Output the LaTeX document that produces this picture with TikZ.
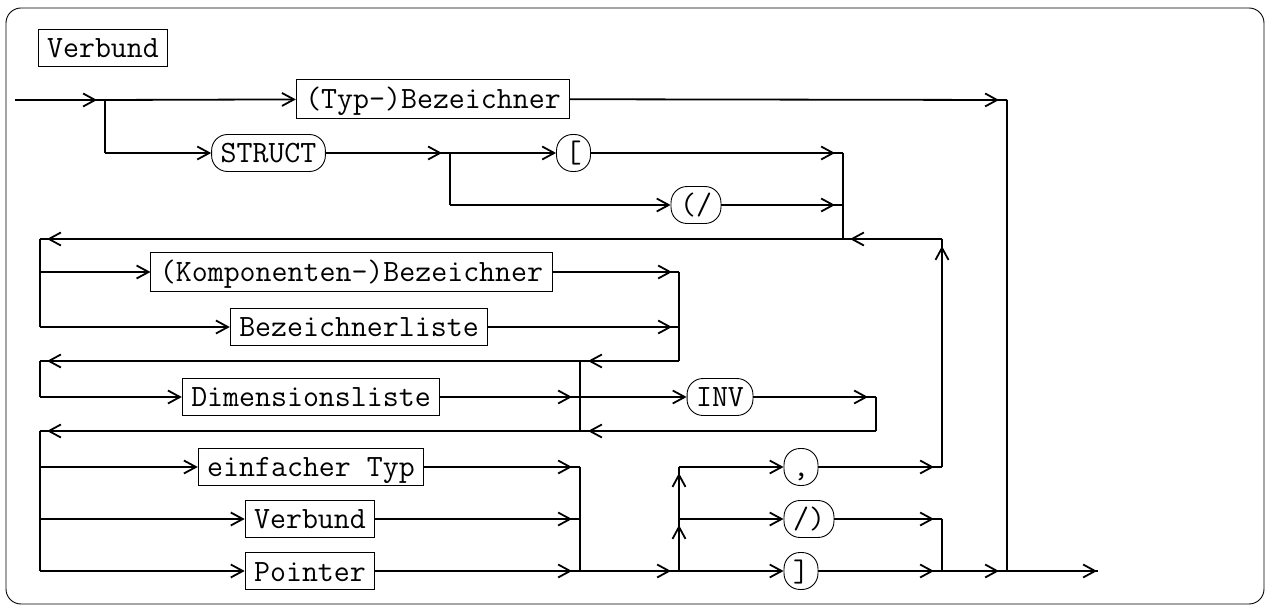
\documentclass[tikz,border=0pt]{standalone}
\usetikzlibrary{arrows.meta,decorations.markings}
\begin{document}
\begin{tikzpicture}[x=1pt,y=-1pt,
  ln/.style={line width=1.8pt},
  tonode/.style={-{Straight Barb[length=12pt,width=13pt]}},
  tipb/.style={postaction={decorate},decoration={markings,mark=at position -#1 with {\arrow{Straight Barb[length=12pt,width=13pt]}}}},
  tipb/.default=8pt,
  box/.style={draw,line width=0.9pt,inner xsep=9pt,inner ysep=2.5pt,text height=26pt,text depth=6pt,font=\fontsize{31pt}{37pt}\selectfont\ttfamily},
  rnd/.style={box,rounded corners=16pt}]
\useasboundingbox (0,0) rectangle (1270,609);
\draw[line width=0.9pt,rounded corners=15pt] (6,8) rectangle (1264,604);
% nodes
\node[box] (title) at (103,47.5) {Verbund};
\node[box,minimum height=39pt] (typ) at (433,99) {(Typ-)Bezeichner};
\node[rnd] (struct) at (268.5,153) {STRUCT};
\node[rnd] (lbr) at (573.5,153) {[};
\node[rnd] (lsl) at (696,205) {(/};
\node[box,minimum height=39pt] (komp) at (351.5,272) {(Komponenten-)Bezeichner};
\node[box] (bez) at (359,327) {Bezeichnerliste};
\node[box] (dim) at (311,397) {Dimensionsliste};
\node[rnd] (inv) at (720,397) {INV};
\node[box] (einf) at (311,467) {einfacher Typ};
\node[box] (verb) at (310,519) {Verbund};
\node[box] (ptr) at (310,571) {Pointer};
\node[rnd] (comma) at (801,467) {,};
\node[rnd] (slr) at (809,519) {/)};
\node[rnd] (rbr) at (801,571) {]};
% coordinates
\coordinate (in) at (15,100);
\coordinate (j1) at (105,100);
\coordinate (j1s) at (105,153);
\coordinate (j2) at (450,153);
\coordinate (j2p) at (450,205);
\coordinate (c1a) at (843,153);
\coordinate (c1b) at (843,205);
\coordinate (c1) at (843,239);
\coordinate (r1l) at (40,239);
\coordinate (kL) at (40,272);
\coordinate (bL) at (40,327);
\coordinate (c2a) at (679,272);
\coordinate (c2b) at (679,327);
\coordinate (c2) at (679,361);
\coordinate (j3a) at (580,361);
\coordinate (r2l) at (40,361);
\coordinate (dL) at (40,397);
\coordinate (j3) at (580,397);
\coordinate (c3a) at (876,397);
\coordinate (c3) at (876,431);
\coordinate (j3b) at (580,431);
\coordinate (r3l) at (40,431);
\coordinate (eL) at (40,467);
\coordinate (vL) at (40,519);
\coordinate (pL) at (40,571);
\coordinate (c4a) at (580,467);
\coordinate (c4b) at (580,519);
\coordinate (c4) at (580,571);
\coordinate (j4a) at (679,467);
\coordinate (j4b) at (679,519);
\coordinate (j4) at (679,571);
\coordinate (c5a) at (942,467);
\coordinate (c5b) at (942,519);
\coordinate (c5) at (942,571);
\coordinate (c5t) at (942,239);
\coordinate (c6t) at (1007,100);
\coordinate (c6) at (1007,571);
\coordinate (out) at (1098,571);
% top
\draw[ln,tipb] (in) -- (j1);
\draw[ln,tonode] (j1) -- (typ);
\draw[ln,tipb] (typ) -- (c6t);
\draw[ln] (c6t) -- (c6);
% struct
\draw[ln] (j1) -- (j1s);
\draw[ln,tonode] (j1s) -- (struct);
\draw[ln,tipb] (struct) -- (j2);
\draw[ln,tonode] (j2) -- (lbr);
\draw[ln] (j2) -- (j2p);
\draw[ln,tonode] (j2p) -- (lsl);
\draw[ln,tipb] (lbr) -- (c1a);
\draw[ln,tipb] (lsl) -- (c1b);
\draw[ln] (c1a) -- (c1);
% first loop
\draw[ln,tipb=7pt] (c1) -- (r1l);
\draw[ln,tipb=7pt] (c5t) -- (c1);
\draw[ln] (r1l) -- (bL);
\draw[ln,tonode] (kL) -- (komp);
\draw[ln,tonode] (bL) -- (bez);
\draw[ln,tipb=7pt] (komp) -- (c2a);
\draw[ln,tipb=7pt] (bez) -- (c2b);
\draw[ln] (c2a) -- (c2);
% second loop
\draw[ln,tipb] (c2) -- (j3a);
\draw[ln,tipb=7pt] (j3a) -- (r2l);
\draw[ln] (r2l) -- (dL);
\draw[ln,tonode] (dL) -- (dim);
\draw[ln,tipb] (dim) -- (j3);
\draw[ln,tonode] (j3) -- (inv);
\draw[ln,tipb] (inv) -- (c3a);
\draw[ln] (c3a) -- (c3);
\draw[ln,tipb] (c3) -- (j3b);
\draw[ln,tipb=7pt] (j3b) -- (r3l);
\draw[ln] (j3a) -- (j3b);
% third loop
\draw[ln] (r3l) -- (pL);
\draw[ln,tonode] (eL) -- (einf);
\draw[ln,tonode] (vL) -- (verb);
\draw[ln,tonode] (pL) -- (ptr);
\draw[ln,tipb] (einf) -- (c4a);
\draw[ln,tipb] (verb) -- (c4b);
\draw[ln,tipb] (ptr) -- (c4);
\draw[ln] (c4a) -- (c4);
\draw[ln,tipb] (c4) -- (j4);
\draw[ln,tonode] (j4) -- (rbr);
\draw[ln,tipb=6pt] (j4) -- (j4b);
\draw[ln,tipb=6pt] (j4b) -- (j4a);
\draw[ln,tonode] (j4b) -- (slr);
\draw[ln,tonode] (j4a) -- (comma);
\draw[ln,tipb] (comma) -- (c5a);
\draw[ln,tipb] (slr) -- (c5b);
\draw[ln,tipb] (rbr) -- (c5);
\draw[ln] (c5b) -- (c5);
\draw[ln,tipb=7pt] (c5a) -- (c5t);
\draw[ln,tipb] (c5) -- (c6);
\draw[ln,tipb=1pt] (c6) -- (out);
\end{tikzpicture}
\end{document}
